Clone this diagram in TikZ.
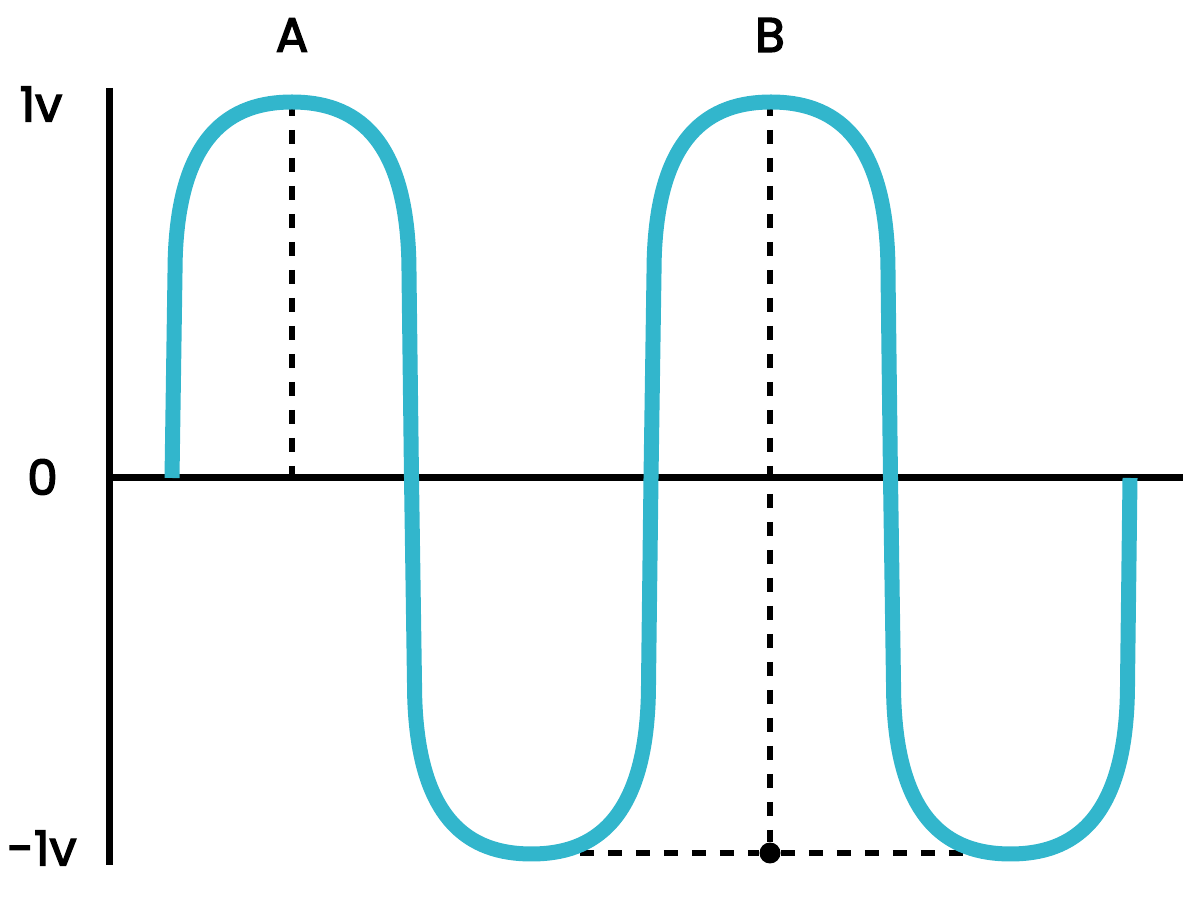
\documentclass[tikz,border=0pt]{standalone}
\usepackage{fontspec}
\setmainfont{Poppins}
\newfontface\labelfont{Poppins}[FakeBold=3]
\usetikzlibrary{positioning}

\definecolor{sigteal}{RGB}{50,182,204}

\begin{document}
\begin{tikzpicture}[
      x = 0.02cm, y = 0.02cm,
      axis/.style = { black, line width = 0.14cm },
      signal/.style = { sigteal, line width = 0.3cm, line join = round },
      guide/.style = { black, line width = 0.12cm, dash pattern = on 0.28cm off 0.28cm },
      lbl/.style = { inner sep = 0, font = {\labelfont\fontsize{27.5}{30}\selectfont} },
      marker/.style = { circle, fill = black, inner sep = 0, minimum size = 0.42cm },
    ]
    \useasboundingbox (0,0) rectangle (1200,899);

    %% axes
    \coordinate (top) at (109,811);
    \coordinate (bottom) at (109,34);
    \coordinate (origin) at (109,421);
    \coordinate (right) at (1183,421);
    \draw[axis] (top) to (bottom);
    \draw[axis] (origin) to (right);

    %% labels
    \node[lbl] (high) at (41,795) {1v};
    \node[lbl] (zero) at (42.5,422) {0};
    \node[lbl] (low) at (42,51) {-1v};
    \node[lbl] (A) at (292,864) {A};
    \node[lbl] (B) at (770,864) {B};

    %% guides
    \coordinate (peakA) at (292,797);
    \coordinate (footA) at (292,421);
    \coordinate (peakB) at (770,797);
    \coordinate (lowL) at (580,46);
    \coordinate (lowR) at (963,46);
    \node[marker] (dot) at (770,46) {};
    \draw[guide] (peakA) to (footA);
    \draw[guide] (peakB) to (dot);
    \draw[guide] (lowL) to (dot) to (lowR);

    %% signal
    \draw[signal] (172,421)
      \foreach \x/\s in {172/1, 411.5/-1, 651/1, 890.5/-1} {
        -- ({\x+3}, {421+(\s)*205})
        .. controls ({\x+3}, {421+(\s)*345}) and ({\x+60}, {421+(\s)*376}) .. ({\x+120}, {421+(\s)*376})
        .. controls ({\x+180}, {421+(\s)*376}) and ({\x+237}, {421+(\s)*345}) .. ({\x+237}, {421+(\s)*205})
        -- ({\x+239.5}, 421)
      };
  \end{tikzpicture}
\end{document}
